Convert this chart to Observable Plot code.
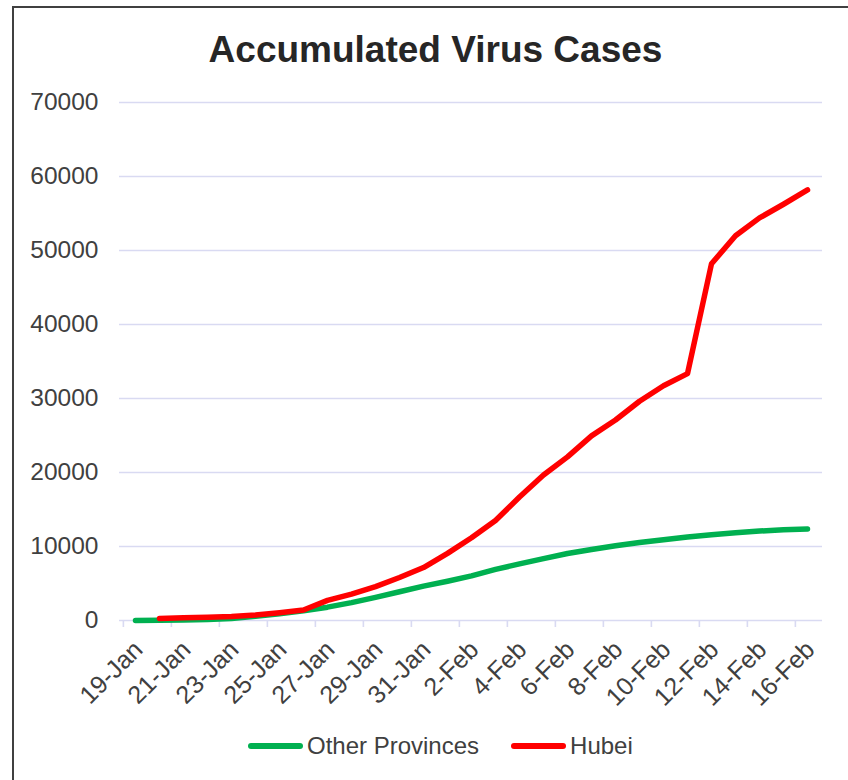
<!DOCTYPE html>
<html>
<head>
<meta charset="utf-8">
<script src="https://cdn.jsdelivr.net/npm/d3@7"></script>
<script src="https://cdn.jsdelivr.net/npm/@observablehq/plot@0.6"></script>
<style>
  body { margin: 0; background: #fff; font-family: "Liberation Sans", Arial, sans-serif; }
  #wrap { position: relative; width: 848px; height: 780px; overflow: hidden; }
  #frame { position: absolute; left: 12px; top: 6px; width: 900px; height: 900px; border: 2px solid #404040; box-sizing: border-box; pointer-events: none; }
  #title { position: relative; height: 90px; box-sizing: border-box; padding-top: 31px; padding-left: 23px; text-align: center; font-weight: bold; font-size: 37px; line-height: 37px; color: #262626; }
  #chart svg { display: block; }
  #legend { position: relative; height: 32px; display: flex; align-items: center; padding-left: 248px; font-size: 24px; color: #404040; }
  .sw { display: inline-block; width: 55px; height: 6px; border-radius: 3px; margin-right: 4px; }
  .item { display: flex; align-items: center; }
</style>
</head>
<body>
<div id="wrap">
  <div id="frame"></div>
  <div id="title">Accumulated Virus Cases</div>
  <div id="chart"></div>
  <div id="legend"></div>
</div>
<script>
const categories = ["19-Jan","20-Jan","21-Jan","22-Jan","23-Jan","24-Jan","25-Jan","26-Jan","27-Jan","28-Jan","29-Jan","30-Jan","31-Jan",
  "1-Feb","2-Feb","3-Feb","4-Feb","5-Feb","6-Feb","7-Feb","8-Feb","9-Feb","10-Feb","11-Feb","12-Feb","13-Feb","14-Feb","15-Feb","16-Feb"];
const otherProvinces = [0, 21, 65, 127, 281, 558, 923, 1321, 1801, 2420, 3125, 3886, 4638, 5306, 6028, 6916, 7646, 8353, 9049, 9593,
  10098, 10540, 10910, 11287, 11598, 11865, 12086, 12251, 12366];
const hubei = [null, 270, 375, 444, 549, 729, 1052, 1423, 2714, 3554, 4586, 5806, 7153, 9074, 11177, 13522, 16678, 19665, 22112, 24953,
  27100, 29631, 31728, 33366, 48206, 51986, 54406, 56249, 58182];
const yTicks = [0, 10000, 20000, 30000, 40000, 50000, 60000, 70000];
const xTickLabels = categories.filter((d, i) => i % 2 === 0);
const seriesNames = ["Other Provinces", "Hubei"];
const seriesColors = ["#00b050", "#ff0000"];

const otherRows = categories.map((c, i) => ({date: c, value: otherProvinces[i]})).filter(d => d.value != null);
const hubeiRows = categories.map((c, i) => ({date: c, value: hubei[i]})).filter(d => d.value != null);

const W = 848, H = 640, mL = 119, mR = 26, mT = 12, mB = 110;
const step = (W - mL - mR) / categories.length;
const grid = "#d9daf2";

const chart = Plot.plot({
  width: W, height: H,
  marginLeft: mL, marginRight: mR, marginTop: mT, marginBottom: mB,
  style: {fontFamily: "'Liberation Sans', Arial, sans-serif", fontSize: "24px", color: "#404040", background: "transparent", overflow: "visible"},
  x: {type: "point", domain: categories, padding: 0.5, label: null},
  y: {domain: [0, 70000], label: null},
  marks: [
    Plot.gridY(yTicks, {stroke: grid, strokeOpacity: 1, strokeWidth: 1.6}),
    Plot.axisX(xTickLabels, {tickSize: 7, fill: "none", stroke: grid, strokeWidth: 1.6, strokeOpacity: 1, dx: -step / 2, label: null}),
    Plot.axisX(xTickLabels, {tickSize: 0, tickPadding: 25, dx: 3, tickRotate: -45, fill: "#404040", fontSize: 25, label: null}),
    Plot.axisY(yTicks, {tickSize: 0, tickPadding: 21, fill: "#404040", fontSize: 24.5, tickFormat: d3.format("d"), label: null}),
    Plot.line(otherRows, {x: "date", y: "value", stroke: seriesColors[0], strokeWidth: 5.5, strokeLinecap: "round", strokeLinejoin: "round"}),
    Plot.line(hubeiRows, {x: "date", y: "value", stroke: seriesColors[1], strokeWidth: 5.5, strokeLinecap: "round", strokeLinejoin: "round"})
  ]
});
document.getElementById("chart").appendChild(chart);

const legend = document.getElementById("legend");
seriesNames.forEach((name, i) => {
  const item = document.createElement("div");
  item.className = "item";
  if (i > 0) item.style.marginLeft = "32px";
  const sw = document.createElement("span");
  sw.className = "sw";
  sw.style.background = seriesColors[i];
  const t = document.createElement("span");
  t.textContent = name;
  item.appendChild(sw);
  item.appendChild(t);
  legend.appendChild(item);
});
</script>
</body>
</html>
